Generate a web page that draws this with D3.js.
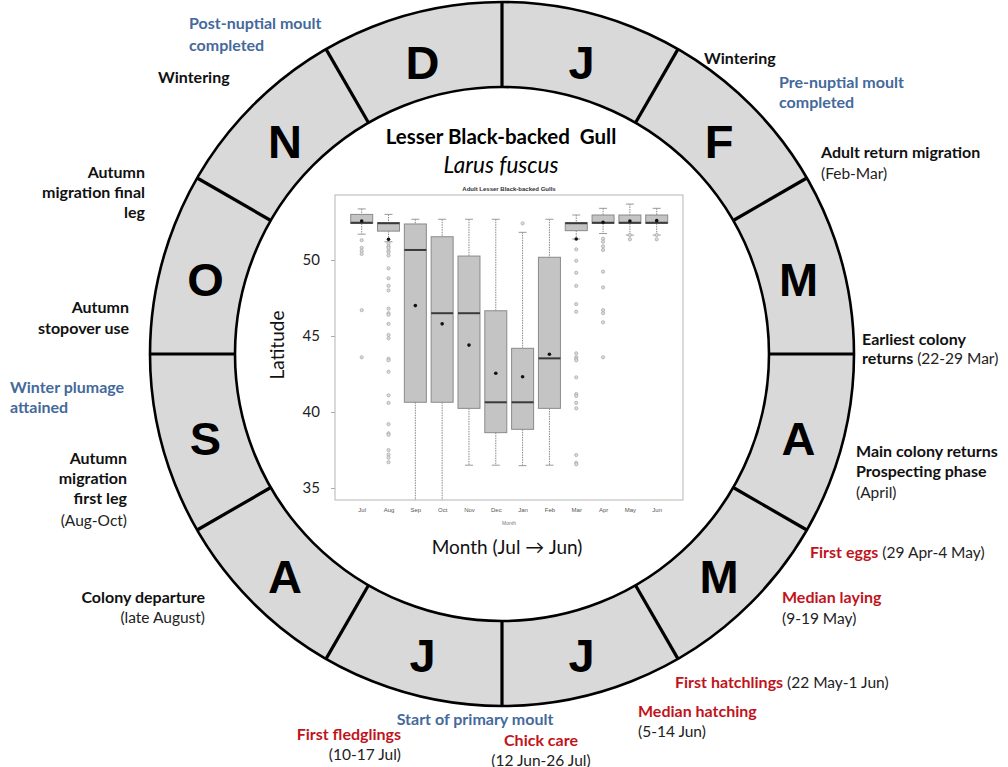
<!DOCTYPE html>
<html><head><meta charset="utf-8">
<script src="https://cdn.jsdelivr.net/npm/d3@7"></script>
<style>body{margin:0;background:#fff;} svg{display:block;}</style>
</head><body>
<script>
// ---------- DATA ----------
const ringMonths = ["J","F","M","A","M","J","J","A","S","O","N","D"]; // Jan..Dec, clockwise from top
const months = ["Jul","Aug","Sep","Oct","Nov","Dec","Jan","Feb","Mar","Apr","May","Jun"];
const whiskerHigh = [53.36,53.0,52.68,52.68,52.68,52.68,51.82,52.68,52.96,53.4,53.68,53.4];
const q3 =          [53.0,52.45,52.37,51.53,50.26,46.66,44.19,50.18,52.45,52.96,52.96,52.96];
const medians =     [52.45,52.42,50.66,46.5,46.5,40.64,40.64,43.53,52.42,52.45,52.45,52.45];
const q1 =          [52.4,51.9,40.64,40.64,40.24,38.64,38.86,40.24,51.93,52.41,52.41,52.41];
const whiskerLow =  [51.7,51.2,34.2,34.2,36.5,36.5,36.47,36.5,51.38,51.74,51.64,51.64];
const means =       [52.57,51.36,47.0,45.8,44.4,42.55,42.32,43.8,51.38,52.48,52.57,52.59];
const outliers = [
  [51.3,50.8,50.6,50.4,46.7,43.6],
  [51.1,50.9,50.8,50.6,50.5,50.3,49.45,48.8,48.3,48.0,46.8,46.5,46.4,45.8,45.07,44.85,43.5,43.4,42.65,41.1,40.6,39.2,38.6,38.5,37.5,37.2,37.0,36.7],
  [],[],[],[],
  [52.41],
  [],
  [50.7,49.95,49.16,48.3,47.1,46.6,43.86,43.6,43.5,43.4,42.28,41.18,41.05,40.6,40.24,37.17,36.66,36.56],
  [51.4,51.2,50.9,50.66,49.23,48.2,46.7,46.5,45.9,43.6],
  [51.64,51.36],
  [51.64,51.36]
];
const yTicks = [35,40,45,50];

// ---------- LAYOUT ----------
const W = 1008, H = 767;
const cx = 502, cy = 354, rOuter = 352, rInner = 267;
const svg = d3.select("body").append("svg").attr("width", W).attr("height", H);

// Ring
const arc = d3.arc().innerRadius(rInner).outerRadius(rOuter);
const pie = d3.pie().value(1).sort(null);
const ring = svg.append("g").attr("transform", `translate(${cx},${cy})`);
ring.selectAll("path.seg").data(pie(ringMonths)).join("path")
  .attr("class","seg").attr("d", arc).attr("fill", "#d9d9d9").attr("stroke","none");
ring.append("circle").attr("r", rOuter).attr("fill","none").attr("stroke","#000").attr("stroke-width",2.6);
ring.append("circle").attr("r", rInner).attr("fill","#fff").attr("stroke","#000").attr("stroke-width",2.6);
ring.selectAll("line.div").data(d3.range(12)).join("line")
  .attr("x1", i => rInner*Math.sin(i*Math.PI/6)).attr("y1", i => -rInner*Math.cos(i*Math.PI/6))
  .attr("x2", i => rOuter*Math.sin(i*Math.PI/6)).attr("y2", i => -rOuter*Math.cos(i*Math.PI/6))
  .attr("stroke","#000").attr("stroke-width",3.2);
const rLetter = 307;
ring.selectAll("text.m").data(pie(ringMonths)).join("text")
  .attr("x", d => rLetter*Math.sin((d.startAngle+d.endAngle)/2))
  .attr("y", d => -rLetter*Math.cos((d.startAngle+d.endAngle)/2) + 5)
  .attr("text-anchor","middle").attr("dominant-baseline","central")
  .attr("font-family","Liberation Sans, Arial, sans-serif").attr("font-weight","bold")
  .attr("font-size",47).attr("fill","#000").text(d => d.data);

// Titles
svg.append("text").attr("x",501).attr("y",144).attr("text-anchor","middle")
  .attr("font-family","Lato, sans-serif").attr("font-weight","bold").attr("font-size",20.5)
  .attr("fill","#000").attr("xml:space","preserve").text("Lesser Black-backed  Gull");
svg.append("text").attr("x",501).attr("y",173).attr("text-anchor","middle")
  .attr("font-family","Lato, sans-serif").attr("font-style","italic").attr("font-size",22.5)
  .attr("fill","#000").text("Larus fuscus");

// Boxplot panel
const fx0 = 335, fx1 = 683, fy0 = 195, fy1 = 500;
const x = d3.scalePoint().domain(months).range([361.7, 656.7]);
const y = d3.scaleLinear().domain([35,50]).range([488,260]);
svg.append("text").attr("x",509).attr("y",191).attr("text-anchor","middle")
  .attr("font-family","Liberation Sans, Arial, sans-serif").attr("font-weight","bold")
  .attr("font-size",6).attr("fill","#333").text("Adult Lesser Black-backed Gulls");
svg.append("rect").attr("x",fx0).attr("y",fy0).attr("width",fx1-fx0).attr("height",fy1-fy0)
  .attr("fill","none").attr("stroke","#b5b5b5").attr("stroke-width",1);

const yAxis = svg.append("g").attr("transform",`translate(${fx0},0)`)
  .call(d3.axisLeft(y).tickValues(yTicks).tickSize(4).tickPadding(11));
yAxis.select(".domain").remove();
yAxis.selectAll(".tick line").attr("stroke","#aaa");
yAxis.selectAll(".tick text").attr("font-family","Lato, sans-serif").attr("font-size",15).attr("fill","#222");

const xAxis = svg.append("g").attr("transform",`translate(0,${fy1})`)
  .call(d3.axisBottom(x).tickSize(0).tickPadding(8));
xAxis.select(".domain").remove();
xAxis.selectAll(".tick text").attr("font-family","Liberation Sans, Arial, sans-serif").attr("font-size",6).attr("fill","#555");
svg.append("text").attr("x",509).attr("y",525).attr("text-anchor","middle")
  .attr("font-family","Liberation Sans, Arial, sans-serif").attr("font-size",5).attr("fill","#777").text("Month");

svg.append("text").attr("transform","translate(284,345) rotate(-90)").attr("text-anchor","middle")
  .attr("font-family","Lato, sans-serif").attr("font-size",19).attr("fill","#111").text("Latitude");
svg.append("text").attr("x",507).attr("y",554).attr("text-anchor","middle")
  .attr("font-family","Lato, sans-serif").attr("font-size",19).attr("fill","#111").text("Month (Jul \u2192 Jun)");

const bw = 22, cw = 8;
const stats = months.map((m,i) => ({m, lo:whiskerLow[i], q1:q1[i], med:medians[i], q3:q3[i], hi:whiskerHigh[i], mean:means[i], out:outliers[i]}));
const g = svg.append("g");
const bx = g.selectAll("g.box").data(stats).join("g").attr("class","box");
bx.append("line").attr("x1",d=>x(d.m)).attr("x2",d=>x(d.m)).attr("y1",d=>y(d.hi)).attr("y2",d=>y(d.q3))
  .attr("stroke","#888").attr("stroke-width",1).attr("stroke-dasharray","1.5,1");
bx.append("line").attr("x1",d=>x(d.m)).attr("x2",d=>x(d.m)).attr("y1",d=>y(d.q1)).attr("y2",d=>y(d.lo))
  .attr("stroke","#888").attr("stroke-width",1).attr("stroke-dasharray","1.5,1");
bx.append("line").attr("x1",d=>x(d.m)-cw/2).attr("x2",d=>x(d.m)+cw/2).attr("y1",d=>y(d.hi)).attr("y2",d=>y(d.hi))
  .attr("stroke","#999").attr("stroke-width",1);
bx.filter(d => d.lo > 35).append("line").attr("x1",d=>x(d.m)-cw/2).attr("x2",d=>x(d.m)+cw/2).attr("y1",d=>y(d.lo)).attr("y2",d=>y(d.lo))
  .attr("stroke","#999").attr("stroke-width",1);
bx.append("rect").attr("x",d=>x(d.m)-bw/2).attr("width",bw).attr("y",d=>y(d.q3)).attr("height",d=>y(d.q1)-y(d.q3))
  .attr("fill","#c4c4c4").attr("stroke","#8a8a8a").attr("stroke-width",1);
bx.append("line").attr("x1",d=>x(d.m)-bw/2).attr("x2",d=>x(d.m)+bw/2).attr("y1",d=>y(d.med)).attr("y2",d=>y(d.med))
  .attr("stroke","#3a3a3a").attr("stroke-width",2);
bx.selectAll("circle.out").data(d => d.out.map(v => ({m:d.m, v}))).join("circle").attr("class","out")
  .attr("cx",d=>x(d.m)).attr("cy",d=>y(d.v)).attr("r",1.6)
  .attr("fill","#ddd").attr("stroke","#aaa").attr("stroke-width",0.8);
bx.append("circle").attr("cx",d=>x(d.m)).attr("cy",d=>y(d.mean)).attr("r",1.8).attr("fill","#111");

// Annotations
const BLUE = "#44699b", RED = "#c0141c", BLK = "#111";
const styles = {
  b:{w:"bold", c:BLK}, r:{w:"normal", c:"#222"}, blue:{w:"bold", c:BLUE}, red:{w:"bold", c:RED}
};
const annotations = [
  {x:189, a:"start", lines:[[23,[["Post-nuptial moult","blue"]]],[45,[["completed","blue"]]]]},
  {x:158, a:"start", lines:[[77,[["Wintering","b"]]]]},
  {x:145, a:"end", lines:[[172,[["Autumn","b"]]],[192,[["migration final","b"]]],[212,[["leg","b"]]]]},
  {x:129, a:"end", lines:[[307,[["Autumn","b"]]],[328,[["stopover use","b"]]]]},
  {x:10, a:"start", lines:[[387,[["Winter plumage","blue"]]],[407,[["attained","blue"]]]]},
  {x:127, a:"end", lines:[[458,[["Autumn","b"]]],[478,[["migration","b"]]],[498,[["first leg","b"]]],[520,[["(Aug-Oct)","r"]]]]},
  {x:205, a:"end", lines:[[597,[["Colony departure","b"]]],[617,[["(late August)","r"]]]]},
  {x:401, a:"end", lines:[[734,[["First fledglings","red"]]],[754,[["(10-17 Jul)","r"]]]]},
  {x:475, a:"middle", lines:[[719,[["Start of primary moult","blue"]]]]},
  {x:541, a:"middle", lines:[[740,[["Chick care","red"]]],[760,[["(12 Jun-26 Jul)","r"]]]]},
  {x:638, a:"start", lines:[[711,[["Median hatching","red"]]],[731,[["(5-14 Jun)","r"]]]]},
  {x:675, a:"start", lines:[[682,[["First hatchlings","red"],[" (22 May-1 Jun)","r"]]]]},
  {x:782, a:"start", lines:[[597,[["Median laying","red"]]],[618,[["(9-19 May)","r"]]]]},
  {x:810, a:"start", lines:[[552,[["First eggs","red"],[" (29 Apr-4 May)","r"]]]]},
  {x:856, a:"start", lines:[[451,[["Main colony returns","b"]]],[471,[["Prospecting phase","b"]]],[492,[["(April)","r"]]]]},
  {x:862, a:"start", lines:[[339,[["Earliest colony","b"]]],[358,[["returns","b"],[" (22-29 Mar)","r"]]]]},
  {x:821, a:"start", lines:[[152,[["Adult return migration","b"]]],[173,[["(Feb-Mar)","r"]]]]},
  {x:779, a:"start", lines:[[82,[["Pre-nuptial moult","blue"]]],[102,[["completed","blue"]]]]},
  {x:704, a:"start", lines:[[58,[["Wintering","b"]]]]}
];
const ag = svg.append("g").attr("font-family","Lato, sans-serif").attr("font-size",16);
annotations.forEach(an => {
  an.lines.forEach(([ly, segs]) => {
    const t = ag.append("text").attr("x",an.x).attr("y",ly+5.5).attr("text-anchor",an.a).attr("xml:space","preserve");
    segs.forEach(([txt, st]) => {
      t.append("tspan").attr("font-weight",styles[st].w).attr("fill",styles[st].c)
        .attr("font-size", st === "r" ? 15.5 : 16).text(txt);
    });
  });
});
</script>
</body></html>
